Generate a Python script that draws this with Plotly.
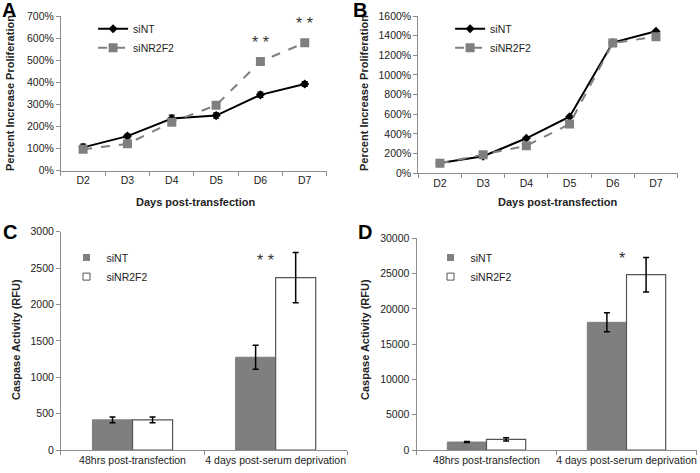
import plotly.graph_objects as go

# Panel A / B: proliferation time course
days = ["D2", "D3", "D4", "D5", "D6", "D7"]
a_sint = [105, 156, 236, 249, 343, 392]
a_sint_err = [15, 9, 15, 12, 12, 11]
a_sinr = [96, 121, 219, 296, 494, 579]
b_sint = [103, 172, 355, 575, 1330, 1445]
b_sinr = [100, 188, 278, 500, 1325, 1390]

# Panel C / D: caspase activity
groups = ["48hrs post-transfection", "4 days post-serum deprivation"]
c_sint = [415, 1275]
c_sint_err = [40, 165]
c_sinr = [415, 2370]
c_sinr_err = [40, 345]
d_sint = [1130, 18100]
d_sint_err = [80, 1350]
d_sinr = [1510, 24850]
d_sinr_err = [220, 2450]

FONT = "Liberation Sans, Arial, sans-serif"
GRAY = "#7f7f7f"
AXC = "#8c8c8c"

fig = go.Figure()


def line_pair(xa, ya, y1, y2, err, legend):
    fig.add_trace(go.Scatter(
        x=days, y=y1, name="siNT", mode="lines+markers",
        line=dict(color="black", width=2),
        marker=dict(symbol="diamond", size=7, color="black"),
        error_y=dict(type="data", array=err, visible=err is not None,
                     color="black", thickness=1.2, width=3),
        xaxis=xa, yaxis=ya, legend=legend,
    ))
    fig.add_trace(go.Scatter(
        x=days, y=y2, name="siNR2F2", mode="lines+markers",
        line=dict(color=GRAY, width=2, dash="dash"),
        marker=dict(symbol="square", size=9, color=GRAY),
        xaxis=xa, yaxis=ya, legend=legend,
    ))


def bar_pair(xa, ya, y1, e1, y2, e2, legend):
    fig.add_trace(go.Bar(
        x=groups, y=y1, name="siNT", marker=dict(color=GRAY, line=dict(color=GRAY, width=1)),
        error_y=dict(type="data", array=e1, color="black", thickness=1.5, width=3),
        xaxis=xa, yaxis=ya, showlegend=False, offsetgroup="a",
    ))
    fig.add_trace(go.Bar(
        x=groups, y=y2, name="siNR2F2", marker=dict(color="white", line=dict(color="#555555", width=1.2)),
        error_y=dict(type="data", array=e2, color="black", thickness=1.5, width=3),
        xaxis=xa, yaxis=ya, showlegend=False, offsetgroup="b",
    ))
    # small square legend swatches
    fig.add_trace(go.Scatter(
        x=[None], y=[None], name="siNT", mode="markers",
        marker=dict(symbol="square", size=7, color=GRAY),
        xaxis=xa, yaxis=ya, legend=legend,
    ))
    fig.add_trace(go.Scatter(
        x=[None], y=[None], name="siNR2F2", mode="markers",
        marker=dict(symbol="square", size=7, color="white", line=dict(color="#555555", width=1)),
        xaxis=xa, yaxis=ya, legend=legend,
    ))


line_pair("x", "y", a_sint, a_sinr, a_sint_err, "legend")
line_pair("x2", "y2", b_sint, b_sinr, None, "legend2")
bar_pair("x3", "y3", c_sint, c_sint_err, c_sinr, c_sinr_err, "legend3")
bar_pair("x4", "y4", d_sint, d_sint_err, d_sinr, d_sinr_err, "legend4")

tick_font = dict(family=FONT, size=10.5, color="#222222")


def xax(domain, anchor, n):
    return dict(domain=domain, anchor=anchor, type="category", range=[-0.5, n - 0.5],
                showline=True, linecolor=AXC, linewidth=1, ticks="outside", ticklen=4,
                tickcolor=AXC, tickson="boundaries", showgrid=False, zeroline=False,
                tickfont=tick_font, tickangle=0, automargin=False, fixedrange=True)


def yax(domain, anchor, rng, dtick, fmt=None):
    d = dict(domain=domain, anchor=anchor, range=rng, dtick=dtick, showline=True,
             linecolor=AXC, linewidth=1, ticks="outside", ticklen=4, tickcolor=AXC,
             showgrid=False, zeroline=False, tickfont=tick_font, tickformat="d",
             automargin=False)
    if fmt:
        d["ticksuffix"] = fmt
    return d


leg_font = dict(family=FONT, size=10.5, color="#222222")


def leg(x, y, gap):
    return dict(x=x, y=y, xanchor="left", yanchor="top", bgcolor="rgba(0,0,0,0)",
                font=leg_font, tracegroupgap=gap, itemwidth=30)


fig.update_layout(
    width=700, height=473, margin=dict(l=0, r=0, t=0, b=0),
    paper_bgcolor="white", plot_bgcolor="white",
    font=dict(family=FONT, size=11, color="#222222"),
    bargap=0.44, bargroupgap=0, barmode="group",
    xaxis=xax([0.0871, 0.467], "y", 6),
    yaxis=yax([0.6395, 0.966], "x", [0, 700], 100, "%"),
    xaxis2=xax([0.5976, 0.968], "y2", 6),
    yaxis2=yax([0.634, 0.966], "x2", [0, 1600], 200, "%"),
    xaxis3=xax([0.0871, 0.496], "y3", 2),
    yaxis3=yax([0.0486, 0.510], "x3", [0, 3000], 500),
    xaxis4=xax([0.595, 0.995], "y4", 2),
    yaxis4=yax([0.0486, 0.496], "x4", [0, 30000], 5000),
    legend=leg(0.133, 0.970, 4),
    legend2=leg(0.643, 0.970, 4),
    legend3=leg(0.095, 0.486, 3),
    legend4=leg(0.615, 0.486, 3),
)

title_font = dict(family=FONT, size=11, color="#222222")
letter_font = dict(family=FONT, size=20, color="black")
star_font = dict(family=FONT, size=16, color="#333333")

ann = [
    dict(text="<b>A</b>", x=0.0, y=1.006, xref="paper", yref="paper", xanchor="left", yanchor="top", font=letter_font),
    dict(text="<b>B</b>", x=0.502, y=1.006, xref="paper", yref="paper", xanchor="left", yanchor="top", font=letter_font),
    dict(text="<b>C</b>", x=0.002, y=0.536, xref="paper", yref="paper", xanchor="left", yanchor="top", font=letter_font),
    dict(text="<b>D</b>", x=0.508, y=0.536, xref="paper", yref="paper", xanchor="left", yanchor="top", font=letter_font),
    dict(text="<b>Percent Increase Proliferation</b>", x=10 / 700, y=1 - 93 / 473, xref="paper", yref="paper",
         textangle=-90, font=title_font),
    dict(text="<b>Percent Increase Proliferation</b>", x=364 / 700, y=1 - 93 / 473, xref="paper", yref="paper",
         textangle=-90, font=title_font),
    dict(text="<b>Caspase Activity (RFU)</b>", x=16 / 700, y=1 - 340 / 473, xref="paper", yref="paper",
         textangle=-90, font=title_font),
    dict(text="<b>Caspase Activity (RFU)</b>", x=365 / 700, y=1 - 340 / 473, xref="paper", yref="paper",
         textangle=-90, font=title_font),
    dict(text="<b>Days post-transfection</b>", x=195 / 700, y=1 - 202 / 473, xref="paper", yref="paper",
         font=title_font),
    dict(text="<b>Days post-transfection</b>", x=557 / 700, y=1 - 202 / 473, xref="paper", yref="paper",
         font=title_font),
    dict(text="* *", x="D6", y=580, xref="x", yref="y", font=star_font),
    dict(text="* *", x="D7", y=665, xref="x", yref="y", font=star_font),
    dict(text="* *", x=groups[1], y=2610, xref="x3", yref="y3", font=star_font, xshift=-10),
    dict(text="*", x=groups[1], y=27200, xref="x4", yref="y4", font=star_font, xshift=-5),
]
fig.update_layout(annotations=[dict(showarrow=False, xanchor="center", yanchor="middle", **a)
                               if "xanchor" not in a else dict(showarrow=False, **a) for a in ann])

# drop the browser's default body margin so the figure sits at the window origin
fig.write_html("out.html", config={"displayModeBar": False},
               post_script="document.body.style.margin='0';")
